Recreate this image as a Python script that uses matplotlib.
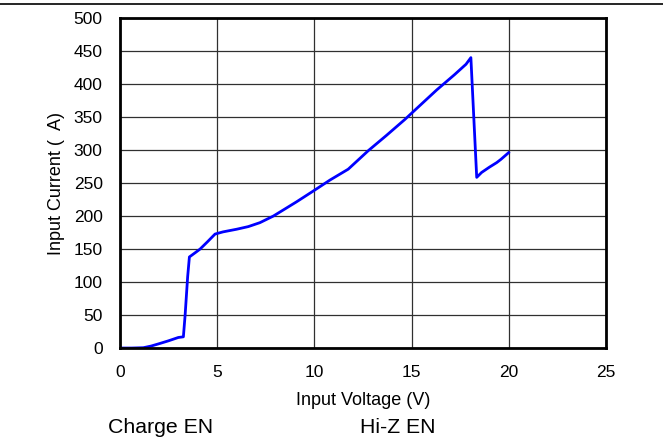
import numpy as np
import matplotlib.pyplot as plt

plt.rcParams['font.family'] = ['Liberation Sans', 'DejaVu Sans']

# input voltage (V) and input current (uA)
v_in = [0.0, 0.6, 1.2, 1.6, 2.06, 2.5, 2.8, 3.0, 3.26, 3.35, 3.48, 3.57, 3.94,
        4.12, 4.5, 4.89, 5.3, 6.0, 6.6, 7.2, 7.89, 8.5, 9.09, 10.0,
        10.8, 11.74, 12.77, 13.7, 14.66, 15.3, 16.29, 17.2, 17.8,
        18.05, 18.35, 18.6, 19.0, 19.38, 19.6, 19.99]
i_in = [0.0, 0.0, 0.5, 3.0, 7.0, 11.0, 14.0, 16.0, 17.0, 50.0, 108.0, 138.0,
        146.0, 150.0, 161.0, 172.7, 176.0, 180.0, 184.0, 190.0, 200.0, 211.0,
        221.7, 239.0, 254.5, 271.0, 299.0, 322.0, 346.5, 364.0, 391.0, 414.0,
        430.0, 440.0, 258.6, 266.0, 274.0, 281.0, 286.0, 296.0]

xticks = [0, 5, 10, 15, 20, 25]
yticks = list(range(0, 501, 50))

fig = plt.figure(figsize=(6.63, 4.4), dpi=100)
ax = fig.add_axes([0.181, 0.209, 0.733, 0.750])

ax.plot(v_in, i_in, color='#0000ff', linewidth=2)

ax.set_xlim(0, 25)
ax.set_ylim(0, 500)
ax.set_xticks(xticks)
ax.set_yticks(yticks)
ax.tick_params(length=0, labelsize=12.5)
ax.tick_params(axis='y', pad=12.5)
ax.tick_params(axis='x', pad=12)
ax.grid(True, color='#303030', linewidth=0.9)
ax.set_axisbelow(True)
for s in ax.spines.values():
    s.set_linewidth(2)
    s.set_color('black')

ax.set_xlabel('Input Voltage (V)', fontsize=13, labelpad=9)
ax.set_ylabel('Input Current (  A)', fontsize=13, labelpad=6)

# rule along the top and the two captions below
fig.add_artist(plt.Line2D([0, 1], [0.991, 0.991], color='black', linewidth=1.2))
fig.text(0.163, 0.0295, 'Charge EN', fontsize=15.3, va='center')
fig.text(0.543, 0.0295, 'Hi-Z EN', fontsize=15.3, va='center')

fig.savefig('out.png', dpi=100)
